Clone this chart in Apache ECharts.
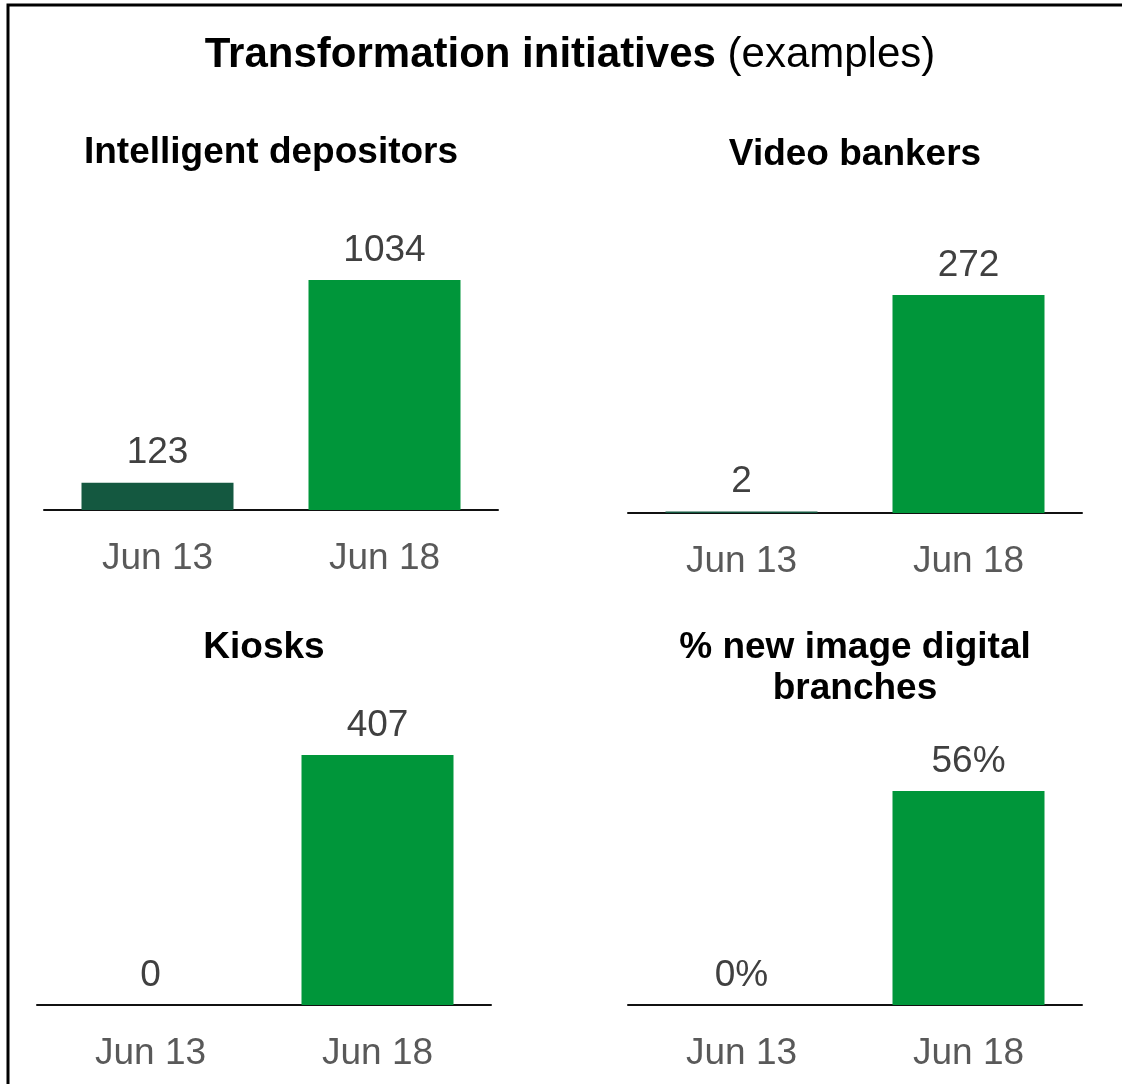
<!DOCTYPE html>
<html>
<head>
<meta charset="utf-8">
<title>Transformation initiatives</title>
<script src="https://cdn.jsdelivr.net/npm/echarts@6/dist/echarts.min.js"></script>
<style>
  html, body { margin: 0; padding: 0; background: #ffffff; }
  #chart { width: 1122px; height: 1084px; }
</style>
</head>
<body>
<div id="chart"></div>
<script>
// Periods compared in every panel
const categories = ['Jun 13', 'Jun 18'];

// Values per initiative
const intelligentDepositors = [123, 1034];
const videoBankers = [2, 272];
const kiosks = [0, 407];
const digitalBranchesPct = [0, 56];

// Panel headings
const mainTitleBold = 'Transformation initiatives';
const mainTitleNote = '(examples)';
const panelTitles = ['Intelligent depositors', 'Video bankers', 'Kiosks', '% new image digital\nbranches'];

const FONT = '"Liberation Sans", Arial, Helvetica, sans-serif';
const DARK_GREEN = '#145840';
const GREEN = '#00963A';
const barColors = [DARK_GREEN, GREEN];

// Plot boxes: left edge, width, top (tallest bar), baseline
const panels = [
  { data: intelligentDepositors, left: 44,  width: 454, top: 280, base: 510,  fmt: '{c}' },
  { data: videoBankers,          left: 628, width: 454, top: 295, base: 513,  fmt: '{c}' },
  { data: kiosks,                left: 37,  width: 454, top: 755, base: 1005, fmt: '{c}' },
  { data: digitalBranchesPct,    left: 628, width: 454, top: 791, base: 1005, fmt: '{c}%' }
];

// Title placement (horizontal center, vertical top)
const titlePos = [
  { x: 271, y: 132 },
  { x: 855, y: 134 },
  { x: 264, y: 627 },
  { x: 855, y: 627 }
];

const chart = echarts.init(document.getElementById('chart'), null, { renderer: 'canvas' });

const grids = panels.map(p => ({
  left: p.left,
  width: p.width,
  top: p.top,
  height: p.base - p.top,
  containLabel: false
}));

const xAxes = panels.map((p, i) => ({
  type: 'category',
  gridIndex: i,
  data: categories,
  axisLine: { show: true, lineStyle: { color: '#111111', width: 2 } },
  axisTick: { show: false },
  axisLabel: { color: '#595959', fontSize: 37, fontFamily: FONT, margin: 30 },
  splitLine: { show: false }
}));

const yAxes = panels.map((p, i) => ({
  type: 'value',
  gridIndex: i,
  min: 0,
  max: v => v.max,
  show: false,
  splitLine: { show: false }
}));

const series = panels.map((p, i) => ({
  type: 'bar',
  xAxisIndex: i,
  yAxisIndex: i,
  barWidth: 152,
  data: p.data.map((v, j) => ({ value: v, itemStyle: { color: barColors[j] } })),
  label: {
    show: true,
    position: 'top',
    distance: 11,
    color: '#404040',
    fontSize: 37,
    fontFamily: FONT,
    formatter: p.fmt
  },
  animation: false
}));

const titles = [
  {
    text: '{b|' + mainTitleBold + ' }{r|' + mainTitleNote + '}',
    left: 570,
    top: 31,
    textAlign: 'center',
    padding: 0,
    textStyle: {
      rich: {
        b: { fontSize: 42, fontWeight: 'bold', color: '#000000', fontFamily: FONT, lineHeight: 48 },
        r: { fontSize: 42, fontWeight: 'normal', color: '#000000', fontFamily: FONT, lineHeight: 48 }
      }
    }
  }
].concat(panelTitles.map((t, i) => ({
  text: t,
  left: titlePos[i].x,
  top: titlePos[i].y,
  textAlign: 'center',
  padding: 0,
  textStyle: {
    fontSize: 37,
    fontWeight: 'bold',
    color: '#000000',
    fontFamily: FONT,
    lineHeight: 41,
    align: 'center'
  }
})));

chart.setOption({
  backgroundColor: '#ffffff',
  animation: false,
  title: titles,
  grid: grids,
  xAxis: xAxes,
  yAxis: yAxes,
  series: series,
  graphic: [
    {
      type: 'rect',
      shape: { x: 8, y: 5, width: 1300, height: 1300 },
      style: { fill: 'none', stroke: '#000000', lineWidth: 3 },
      silent: true,
      z: 100
    }
  ]
});
</script>
</body>
</html>
